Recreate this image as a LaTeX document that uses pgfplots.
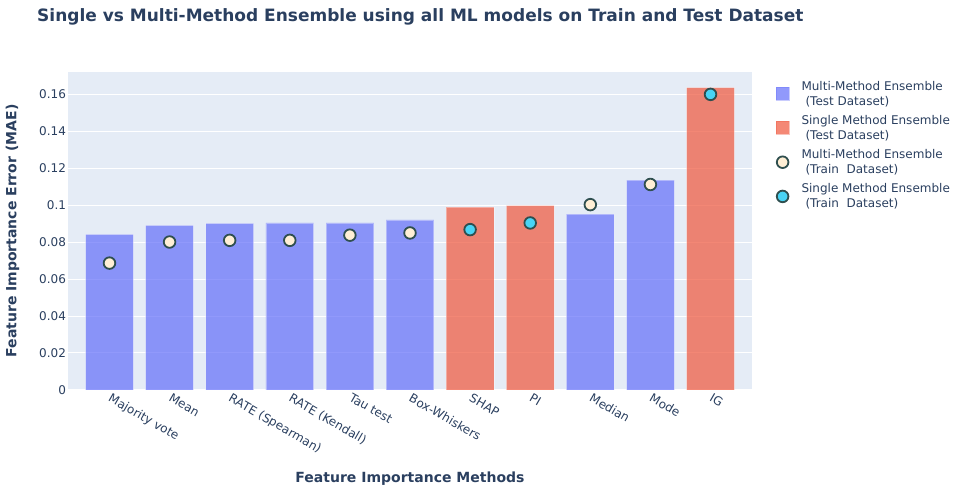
\documentclass[border=0pt]{standalone}
\usepackage{fontspec}
\setmainfont{DejaVu Sans}
\usepackage{pgfplots}
\pgfplotsset{compat=1.18}
\definecolor{txt}{HTML}{2A3F5F}
\definecolor{bg}{HTML}{E5ECF6}
\definecolor{mblue}{HTML}{636EFA}
\definecolor{mred}{HTML}{EF553B}
\definecolor{cream}{HTML}{FFEFD5}
\definecolor{cyanm}{HTML}{48D4F5}
\definecolor{edge}{HTML}{2F4F4F}
\begin{document}
\begin{tikzpicture}
\useasboundingbox (0pt,0pt) rectangle (962pt,487pt);
\node[anchor=west, text=txt, font=\fontsize{17}{20}\selectfont\bfseries, inner sep=0pt] at (37pt,470pt) {Single vs Multi-Method Ensemble using all ML models on Train and Test Dataset};
\begin{axis}[
  at={(68pt,97pt)}, anchor=south west,
  scale only axis, width=684pt, height=318pt,
  xmin=-0.69, xmax=10.69, ymin=0, ymax=0.1719,
  axis background/.style={fill=bg},
  axis line style={draw=none},
  tick style={draw=none},
  ymajorgrids, grid style={white, line width=1pt},
  ytick={0,0.02,0.04,0.06,0.08,0.1,0.12,0.14,0.16},
  yticklabels={0,0.02,0.04,0.06,0.08,0.1,0.12,0.14,0.16},
  yticklabel style={xshift=1.5pt},
  xtick={0,...,10},
  xticklabels={Majority vote,Mean,RATE (Spearman),RATE (Kendall),Tau test,Box-Whiskers,SHAP,PI,Median,Mode,IG},
  xticklabel style={anchor=north west, inner sep=2pt, xshift=2pt, rotate=-30},
  ticklabel style={text=txt, font=\fontsize{12}{14}\selectfont},
  xlabel={Feature Importance Methods},
  ylabel={Feature Importance Error (MAE)},
  label style={text=txt, font=\fontsize{14}{17}\selectfont\bfseries},
  xlabel style={at={(axis description cs:0.5,-0.28)}, anchor=center},
  ylabel style={at={(axis description cs:-0.081,0.5)}, anchor=center, rotate=0},
  legend style={at={(1.03,0.985)}, anchor=north west, draw=none, fill=none,
     font=\fontsize{12}{15}\selectfont, text=txt,
     cells={anchor=west, align=left}, row sep=4.6pt, column sep=10pt},
]
\addplot[ybar, bar width=0.794, bar shift=0pt, fill=mblue, fill opacity=0.7, draw=white, draw opacity=0.35, line width=0.8pt,
  legend image code/.code={\fill[mblue] (2pt,-6.5pt) rectangle (15pt,6.5pt);}]
  coordinates {(0,0.0841) (1,0.0890) (2,0.0901) (3,0.0903) (4,0.0903) (5,0.0919) (8,0.0951) (9,0.1135)};
\addlegendentry{Multi-Method Ensemble\\\hspace{4pt}(Test Dataset)}
\addplot[ybar, bar width=0.794, bar shift=0pt, fill=mred, fill opacity=0.7, draw=white, draw opacity=0.35, line width=0.8pt,
  legend image code/.code={\fill[mred] (2pt,-6.5pt) rectangle (15pt,6.5pt);}]
  coordinates {(6,0.0989) (7,0.0997) (10,0.1634)};
\addlegendentry{Single Method Ensemble\\\hspace{4pt}(Test Dataset)}
\addplot[only marks, mark=*, mark size=5.8pt, mark options={fill=cream, draw=edge, line width=1.8pt},
  legend image code/.code={\draw[mark options={fill=cream, draw=edge, line width=1.8pt}] plot coordinates {(8.5pt,0pt)};}]
  coordinates {(0,0.0686) (1,0.0800) (2,0.0809) (3,0.0809) (4,0.0837) (5,0.0849) (8,0.1002) (9,0.1111)};
\addlegendentry{Multi-Method Ensemble\\\hspace{4pt}(Train\ \ Dataset)}
\addplot[only marks, mark=*, mark size=5.8pt, mark options={fill=cyanm, draw=edge, line width=1.8pt},
  legend image code/.code={\draw[mark options={fill=cyanm, draw=edge, line width=1.8pt}] plot coordinates {(8.5pt,0pt)};}]
  coordinates {(6,0.0867) (7,0.0903) (10,0.1598)};
\addlegendentry{Single Method Ensemble\\\hspace{4pt}(Train\ \ Dataset)}
\end{axis}
\end{tikzpicture}
\end{document}
